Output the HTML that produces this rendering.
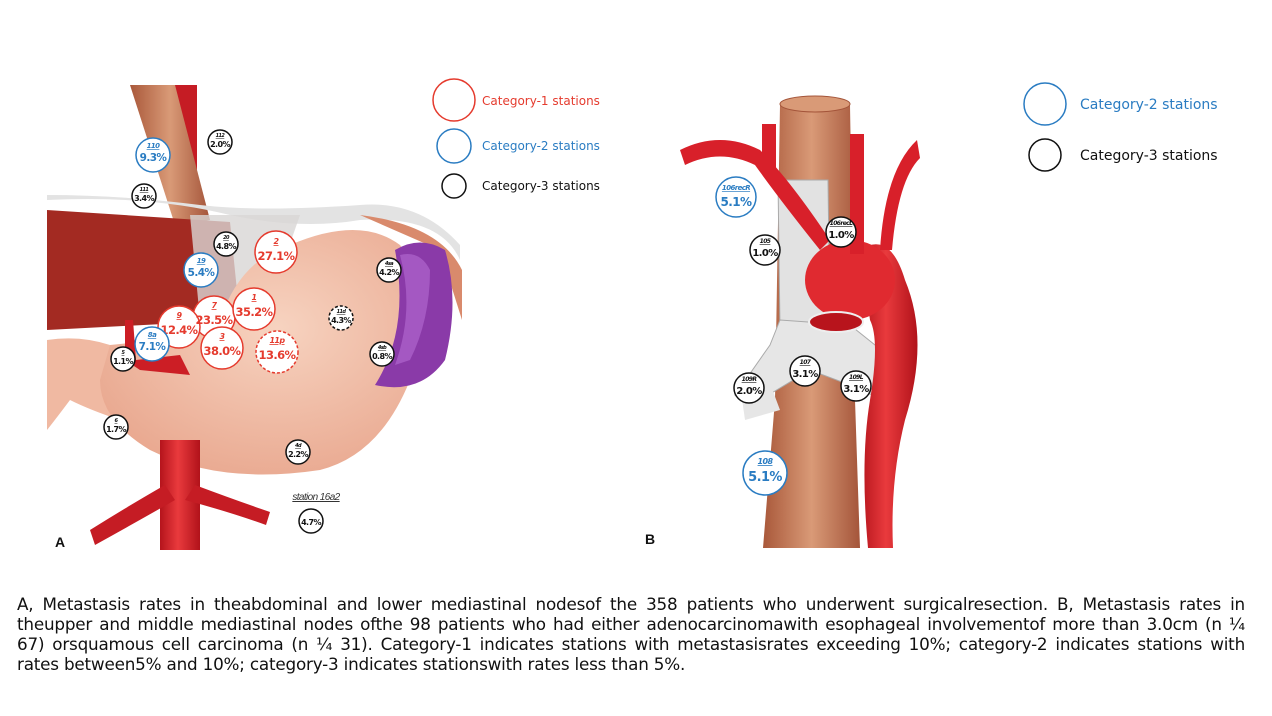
<!DOCTYPE html>
<html><head><meta charset="utf-8"><style>
body{margin:0;background:#fff;width:1272px;height:716px;overflow:hidden;font-family:"Liberation Sans",sans-serif}
.cap{position:absolute;left:17px;top:594px;width:1228px;font-family:"DejaVu Sans",sans-serif;font-size:16.8px;line-height:20px;color:#111}
.cap div{text-align:justify;text-align-last:justify;white-space:nowrap;word-spacing:0;letter-spacing:-0.2px}
.cap div.l{text-align-last:left}
svg{position:absolute;left:0;top:0}
.n{font-family:"DejaVu Sans",sans-serif;font-style:italic;text-decoration:underline;font-weight:bold}
.p{font-family:"DejaVu Sans",sans-serif;font-weight:bold}
.r{letter-spacing:-0.6px}
</style></head><body>
<svg width="1272" height="716" viewBox="0 0 1272 716">
<defs>
<linearGradient id="eso" x1="0" x2="1"><stop offset="0" stop-color="#a9583a"/><stop offset=".5" stop-color="#d99a77"/><stop offset="1" stop-color="#a4553a"/></linearGradient>
<radialGradient id="sto" cx=".55" cy=".4" r=".7"><stop offset="0" stop-color="#f7d3c0"/><stop offset="1" stop-color="#e8a58c"/></radialGradient>
<linearGradient id="ao" x1="0" x2="1"><stop offset="0" stop-color="#b5141c"/><stop offset=".45" stop-color="#e93a3d"/><stop offset="1" stop-color="#b1121a"/></linearGradient>
</defs>
<rect x="175" y="85" width="22" height="140" fill="#c51c24"/>
<path d="M130 85 L175 85 L210 220 L175 225 Z" fill="url(#eso)"/>
<path d="M47 210 L230 222 L240 320 L47 330 Z" fill="#a32a22"/>
<path d="M47 200 Q150 195 230 215 Q300 230 360 220 Q440 215 460 260 L460 245 Q420 200 360 205 Q260 212 200 205 Q120 195 47 195 Z" fill="#e3e3e3"/>
<path d="M190 215 L300 215 L260 330 L200 320 Z" fill="#d8d6d4" opacity=".8"/>
<path d="M360 215 Q440 225 462 270 L462 320 L440 250 Z" fill="#d98a6c"/>
<path d="M47 340 Q80 335 110 345 L120 420 Q90 410 70 400 Q55 420 47 430 Z" fill="#f0b9a2"/>
<path d="M110 345 Q170 340 220 320 Q240 260 290 245 Q360 215 400 245 Q440 300 410 380 Q380 455 320 470 Q220 485 150 450 Q100 420 100 380 Z" fill="url(#sto)"/>
<path d="M395 250 Q420 235 445 250 Q460 300 445 360 Q420 395 375 385 Q410 330 395 250 Z" fill="#8a3aa8"/>
<path d="M400 255 Q420 250 430 270 Q430 320 410 360 L395 365 Q415 310 400 255Z" fill="#a458c2"/>
<rect x="160" y="440" width="40" height="110" fill="url(#ao)"/>
<path d="M165 485 Q130 505 90 530 L95 545 Q140 520 175 500Z M195 485 Q235 500 270 512 L266 525 Q230 512 185 500Z" fill="#c51c24"/>
<path d="M125 320 L133 320 L136 360 L180 355 L190 375 L140 370 L125 360 Z" fill="#cc1e25"/>
<text x="55" y="547" font-size="14" font-weight="bold" fill="#111">A</text>
<path d="M780 105 L850 105 L855 400 L860 548 L763 548 L775 400 Z" fill="url(#eso)"/>
<ellipse cx="815" cy="104" rx="35" ry="8" fill="#d99a77" stroke="#a4553a"/>
<path d="M778 180 L828 180 L830 330 L780 330 Z" fill="#e2e2e2" stroke="#aaa"/>
<path d="M780 320 L850 325 L900 365 L895 405 L850 385 L810 370 L760 400 L735 395 L770 345 Z" fill="#e6e6e6" stroke="#aaa"/>
<path d="M860 250 Q890 230 905 280 Q930 340 905 420 Q890 480 893 548 L868 548 Q860 460 870 400 Q880 340 870 320 Z" fill="url(#ao)"/>
<ellipse cx="850" cy="280" rx="45" ry="40" fill="#e02a30"/>
<ellipse cx="836" cy="322" rx="27" ry="10" fill="#b8141c" stroke="#eee" stroke-width="2"/>
<path d="M680 150 Q720 130 760 150 Q790 180 830 240 L820 250 Q780 200 755 165 Q720 148 685 165 Z" fill="#d8202a"/>
<rect x="762" y="124" width="14" height="50" fill="#d8202a"/>
<rect x="850" y="134" width="14" height="120" fill="#d8202a"/>
<path d="M917 140 Q885 170 880 250 L892 250 Q898 180 920 158 Z" fill="#d8202a"/>
<path d="M740 385 L765 370 L780 410 L745 420Z" fill="#e6e6e6"/>
<text x="645" y="544" font-size="14" font-weight="bold" fill="#111">B</text>
<g font-family="DejaVu Sans,sans-serif" font-size="12">
<circle cx="454" cy="100" r="21" fill="none" stroke="#e53b2e" stroke-width="1.5"/><text x="482" y="105" fill="#e53b2e">Category-1 stations</text>
<circle cx="454" cy="146" r="17" fill="none" stroke="#2a7cc2" stroke-width="1.5"/><text x="482" y="150" fill="#2a7cc2">Category-2 stations</text>
<circle cx="454" cy="186" r="12" fill="none" stroke="#111" stroke-width="1.5"/><text x="482" y="190" fill="#111">Category-3 stations</text>
</g>
<g font-family="DejaVu Sans,sans-serif" font-size="14">
<circle cx="1045" cy="104" r="21" fill="none" stroke="#2a7cc2" stroke-width="1.5"/><text x="1080" y="109" fill="#2a7cc2">Category-2 stations</text>
<circle cx="1045" cy="155" r="16" fill="none" stroke="#111" stroke-width="1.5"/><text x="1080" y="160" fill="#111">Category-3 stations</text>
</g>
<g text-anchor="middle">
<g fill="#fff" stroke="#e53b2e" stroke-width="1.5">
<circle cx="276" cy="252" r="21"/><circle cx="214" cy="317" r="21"/><circle cx="254" cy="309" r="21"/><circle cx="179" cy="327" r="21"/><circle cx="222" cy="348" r="21"/><circle cx="277" cy="352" r="21" stroke-dasharray="3 2"/>
</g>
<g fill="#e53b2e" class="r">
<text x="276" y="244" font-size="8" class="n">2</text><text x="276" y="260" font-size="11.5" class="p">27.1%</text>
<text x="254" y="300" font-size="8" class="n">1</text><text x="254" y="316" font-size="11.5" class="p">35.2%</text>
<text x="214" y="308" font-size="8" class="n">7</text><text x="214" y="324" font-size="11.5" class="p">23.5%</text>
<text x="179" y="318" font-size="8" class="n">9</text><text x="179" y="334" font-size="11.5" class="p">12.4%</text>
<text x="222" y="339" font-size="8" class="n">3</text><text x="222" y="355" font-size="11.5" class="p">38.0%</text>
<text x="277" y="343" font-size="8" class="n">11p</text><text x="277" y="359" font-size="11.5" class="p">13.6%</text>
</g>
<g fill="#fff" stroke="#2a7cc2" stroke-width="1.5">
<circle cx="153" cy="155" r="17"/><circle cx="201" cy="270" r="17"/><circle cx="152" cy="344" r="17"/>
<circle cx="736" cy="197" r="20"/><circle cx="765" cy="473" r="22"/>
</g>
<g fill="#2a7cc2" class="r">
<text x="153" y="148" font-size="7" class="n">110</text><text x="153" y="161" font-size="10.5" class="p">9.3%</text>
<text x="201" y="263" font-size="7" class="n">19</text><text x="201" y="276" font-size="10.5" class="p">5.4%</text>
<text x="152" y="337" font-size="7" class="n">8a</text><text x="152" y="350" font-size="10.5" class="p">7.1%</text>
<text x="736" y="190" font-size="7" class="n">106recR</text><text x="736" y="206" font-size="12" class="p">5.1%</text>
<text x="765" y="464" font-size="8" class="n">108</text><text x="765" y="481" font-size="13" class="p">5.1%</text>
</g>
<g fill="#fff" stroke="#111" stroke-width="1.5">
<circle cx="220" cy="142" r="12"/><circle cx="144" cy="196" r="12"/><circle cx="226" cy="244" r="12"/><circle cx="389" cy="270" r="12"/><circle cx="341" cy="318" r="12" stroke-dasharray="3 2"/><circle cx="382" cy="354" r="12"/><circle cx="123" cy="359" r="12"/><circle cx="116" cy="427" r="12"/><circle cx="298" cy="452" r="12"/><circle cx="311" cy="521" r="12"/>
<circle cx="765" cy="250" r="15"/><circle cx="841" cy="232" r="15"/><circle cx="805" cy="371" r="15"/><circle cx="749" cy="388" r="15"/><circle cx="856" cy="386" r="15"/>
</g>
<g fill="#111" class="r">
<text x="220" y="137" font-size="5" class="n">112</text><text x="220" y="147" font-size="8" class="p">2.0%</text>
<text x="144" y="191" font-size="5" class="n">111</text><text x="144" y="201" font-size="8" class="p">3.4%</text>
<text x="226" y="239" font-size="5" class="n">20</text><text x="226" y="249" font-size="8" class="p">4.8%</text>
<text x="389" y="265" font-size="5" class="n">4sa</text><text x="389" y="275" font-size="8" class="p">4.2%</text>
<text x="341" y="313" font-size="5" class="n">11d</text><text x="341" y="323" font-size="8" class="p">4.3%</text>
<text x="382" y="349" font-size="5" class="n">4sb</text><text x="382" y="359" font-size="8" class="p">0.8%</text>
<text x="123" y="354" font-size="5" class="n">5</text><text x="123" y="364" font-size="8" class="p">1.1%</text>
<text x="116" y="422" font-size="5" class="n">6</text><text x="116" y="432" font-size="8" class="p">1.7%</text>
<text x="298" y="447" font-size="5" class="n">4d</text><text x="298" y="457" font-size="8" class="p">2.2%</text>
<text x="311" y="525" font-size="8" class="p">4.7%</text>
<text x="316" y="500" font-size="10" font-style="italic" text-decoration="underline" fill="#333">station 16a2</text>
<text x="765" y="243" font-size="6" class="n">105</text><text x="765" y="256" font-size="10" class="p">1.0%</text>
<text x="841" y="225" font-size="6" class="n">106recL</text><text x="841" y="238" font-size="10" class="p">1.0%</text>
<text x="805" y="364" font-size="6" class="n">107</text><text x="805" y="377" font-size="10" class="p">3.1%</text>
<text x="749" y="381" font-size="6" class="n">109R</text><text x="749" y="394" font-size="10" class="p">2.0%</text>
<text x="856" y="379" font-size="6" class="n">109L</text><text x="856" y="392" font-size="10" class="p">3.1%</text>
</g>
</g>
</svg>
<div class="cap">
<div>A, Metastasis rates in theabdominal and lower mediastinal nodesof the 358 patients who underwent surgicalresection. B, Metastasis rates in</div>
<div>theupper and middle mediastinal nodes ofthe 98 patients who had either adenocarcinomawith esophageal involvementof more than 3.0cm (n ¼</div>
<div>67) orsquamous cell carcinoma (n ¼ 31). Category-1 indicates stations with metastasisrates exceeding 10%; category-2 indicates stations with</div>
<div class="l">rates between5% and 10%; category-3 indicates stationswith rates less than 5%.</div>
</div>
</body></html>
